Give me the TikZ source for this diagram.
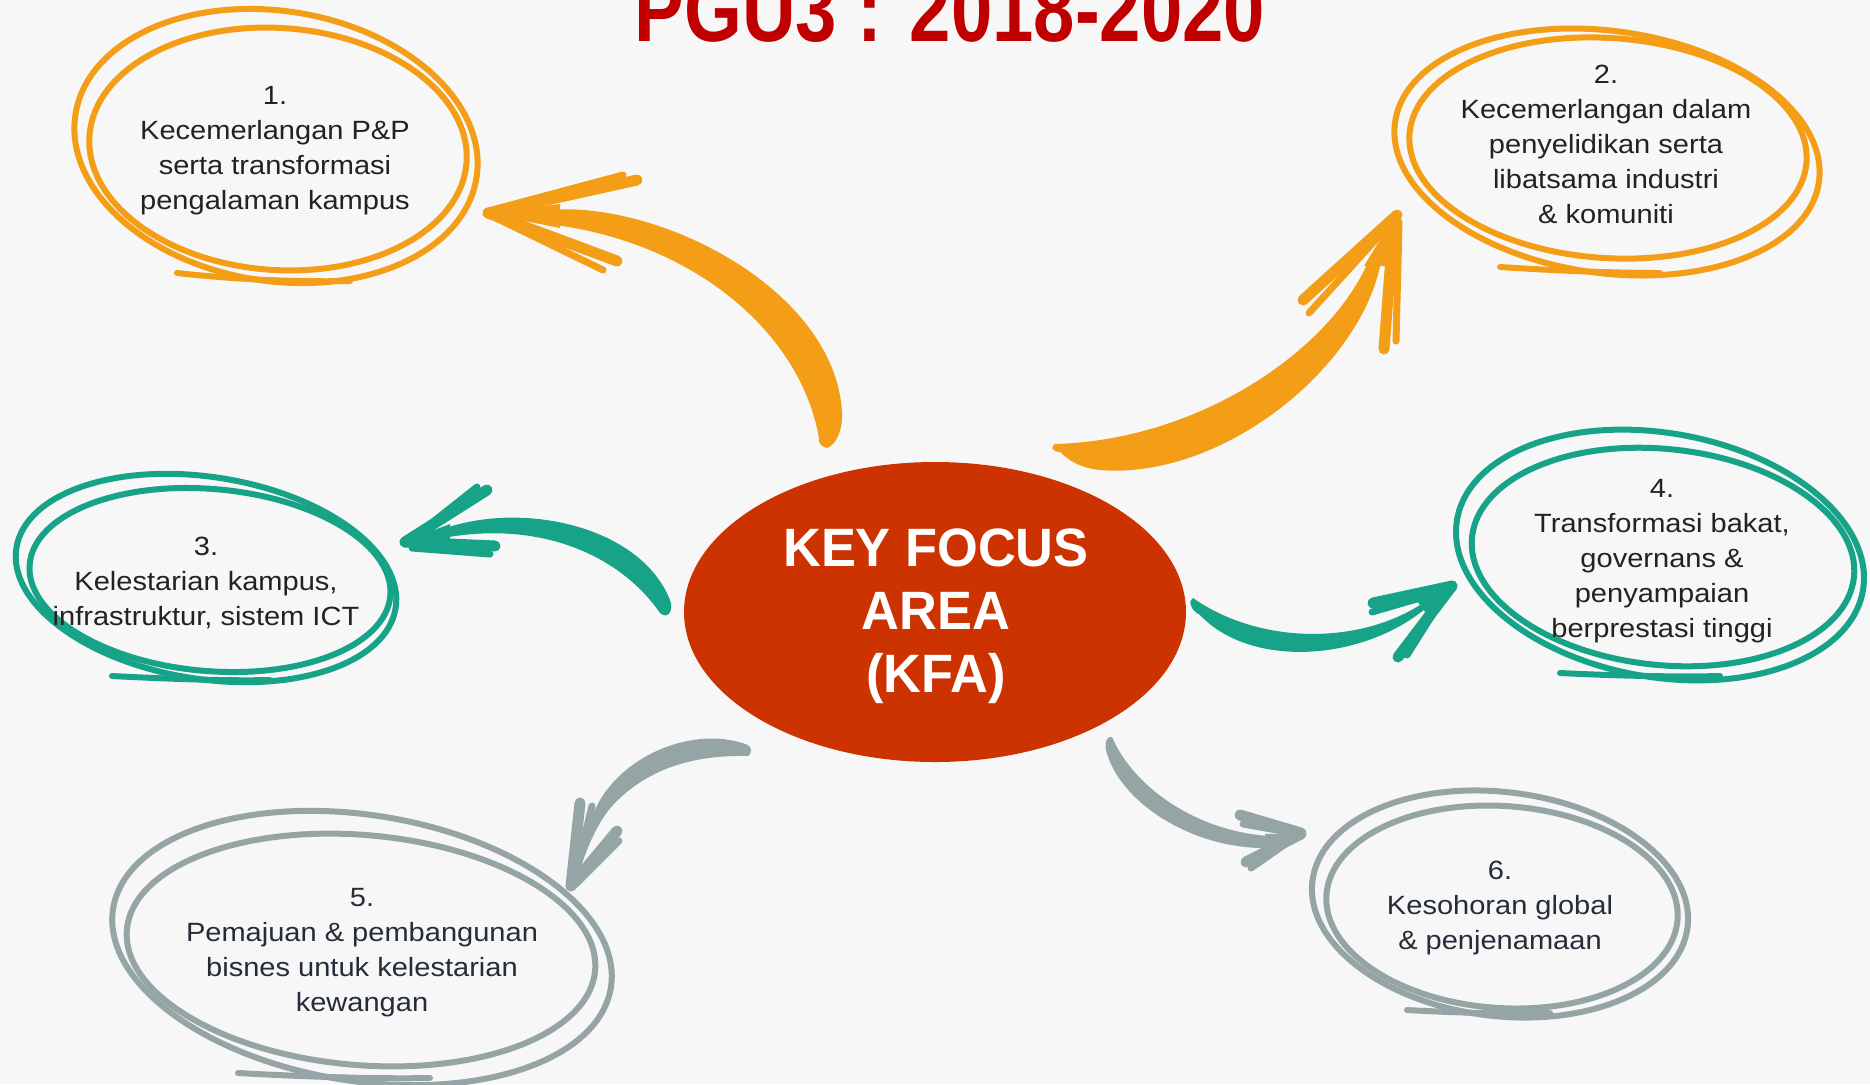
\documentclass[tikz,border=0pt]{standalone}
\usepackage{fontspec}
\setmainfont{Liberation Sans}
\newfontfamily\itemfont{Liberation Sans}[FakeStretch=1.1]
\newfontfamily\kfafont{Liberation Sans}[FakeStretch=0.97]
\newfontfamily\titlefont{Liberation Sans}[FakeStretch=0.82]
\definecolor{bgc}{HTML}{F7F7F7}
\definecolor{org}{HTML}{F39E16}
\definecolor{tealc}{HTML}{17A387}
\definecolor{grayc}{HTML}{95A5A5}
\definecolor{kfac}{HTML}{CC3300}
\definecolor{ttl}{HTML}{C00000}
\definecolor{txt}{HTML}{222222}
\definecolor{txtb}{HTML}{252D38}
\begin{document}
\begin{tikzpicture}[x=0.5pt,y=-0.5pt,
  loopline/.style={draw=#1, line width=3pt, line cap=round},
  barb/.style={draw=#1, line width=5.5pt, line cap=round},
  barbthin/.style={draw=#1, line width=3.5pt, line cap=round},
  itemtext/.style={anchor=base, inner sep=0pt, text=txt, font=\itemfont\fontsize{13.2}{17.5}\selectfont},
  kfatext/.style={anchor=base, inner sep=0pt, text=white, font=\kfafont\bfseries\fontsize{27}{31.5}\selectfont},
  titletext/.style={anchor=base, inner sep=0pt, text=ttl, font=\titlefont\bfseries\fontsize{45.3}{50}\selectfont}]
\useasboundingbox (0,0) rectangle (1870,1084);
\fill[bgc] (0,0) rectangle (1870,1084);
\clip (0,0) rectangle (1870,1084);

% title
\node[titletext] (title) at (950,41) {PGU3 : 2018-2020};

% central ellipse
\fill[kfac] (935,612) ellipse [x radius=251, y radius=150];
\node[kfatext] (kfa) at (936,566) {\begin{tabular}[t]{@{}c@{}}KEY FOCUS\\AREA\\(KFA)\end{tabular}};

% ---------- loops ----------
% item 1
\draw[loopline=org, shift={(276,146)}, rotate=-9] (0,0) ellipse [x radius=203, y radius=135];
\draw[loopline=org, shift={(278,149)}, rotate=-4] (0,0) ellipse [x radius=189, y radius=121];
\draw[loopline=org] (177,273) .. controls (240,280) and (300,282) .. (350,281);
% item 2
\draw[loopline=org, shift={(1607,152)}, rotate=-8] (0,0) ellipse [x radius=214, y radius=121];
\draw[loopline=org, shift={(1608,148)}, rotate=-4] (0,0) ellipse [x radius=199, y radius=110];
\draw[loopline=org] (1500,267) .. controls (1560,271) and (1620,273) .. (1660,273);
% item 3
\draw[loopline=tealc, shift={(206,578)}, rotate=-9] (0,0) ellipse [x radius=192, y radius=101];
\draw[loopline=tealc, shift={(210,580)}, rotate=-5] (0,0) ellipse [x radius=181, y radius=91];
\draw[loopline=tealc] (112,676) .. controls (170,679) and (230,681) .. (270,680);
% item 4
\draw[loopline=tealc, shift={(1660,555)}, rotate=-10] (0,0) ellipse [x radius=206, y radius=122];
\draw[loopline=tealc, shift={(1663,557)}, rotate=-6] (0,0) ellipse [x radius=192, y radius=108];
\draw[loopline=tealc] (1560,673) .. controls (1620,676) and (1680,677) .. (1720,676);
% item 5
\draw[loopline=grayc, shift={(362,948)}, rotate=-9] (0,0) ellipse [x radius=252, y radius=133];
\draw[loopline=grayc, shift={(361,950)}, rotate=-5] (0,0) ellipse [x radius=235, y radius=115];
\draw[loopline=grayc] (238,1073) .. controls (310,1077) and (380,1079) .. (430,1078);
% item 6
\draw[loopline=grayc, shift={(1500,904)}, rotate=-7] (0,0) ellipse [x radius=189, y radius=112];
\draw[loopline=grayc, shift={(1502,907)}, rotate=-4] (0,0) ellipse [x radius=176, y radius=101];
\draw[loopline=grayc] (1407,1010) .. controls (1460,1013) and (1510,1014) .. (1550,1013);

% ---------- texts ----------
\node[itemtext] (n1) at (275,104) {\begin{tabular}[t]{@{}c@{}}1.\\Kecemerlangan P\&P\\serta transformasi\\pengalaman kampus\end{tabular}};
\node[itemtext] (n2) at (1606,83) {\begin{tabular}[t]{@{}c@{}}2.\\Kecemerlangan dalam\\penyelidikan serta\\libatsama industri\\\& komuniti\end{tabular}};
\node[itemtext] (n3) at (206,555) {\begin{tabular}[t]{@{}c@{}}3.\\Kelestarian kampus,\\infrastruktur, sistem ICT\end{tabular}};
\node[itemtext] (n4) at (1662,497) {\begin{tabular}[t]{@{}c@{}}4.\\Transformasi bakat,\\governans \&\\penyampaian\\berprestasi tinggi\end{tabular}};
\node[itemtext, text=txtb] (n5) at (362,906) {\begin{tabular}[t]{@{}c@{}}5.\\Pemajuan \& pembangunan\\bisnes untuk kelestarian\\kewangan\end{tabular}};
\node[itemtext, text=txtb] (n6) at (1500,879) {\begin{tabular}[t]{@{}c@{}}6.\\Kesohoran global\\\& penjenamaan\end{tabular}};

% ---------- arrows ----------
% arrow 1 (orange, to item 1)
\fill[org] (547,210) .. controls (660,200) and (835,290) .. (842,412) .. controls (843,430) and (836,445) .. (827,448) .. controls (820,446) and (818,442) .. (819,438) .. controls (800,330) and (690,240) .. (547,224) -- cycle;
\fill[org] (485,213) -- (560,204) -- (560,228) -- cycle;
\draw[barb=org] (488,213) -- (637,180);
\draw[barbthin=org] (496,209) -- (623,175);
\draw[barb=org] (488,213) -- (617,261);
\draw[barbthin=org] (496,218) -- (603,270);

% arrow 2 (orange, to item 2)
\fill[org] (1055,444) .. controls (1200,440) and (1330,350) .. (1368,262) -- (1381,262) .. controls (1360,370) and (1220,480) .. (1100,470) .. controls (1080,468) and (1068,460) .. (1060,452) .. controls (1052,452) and (1050,446) .. (1055,444) -- cycle;
\fill[org] (1397,212) -- (1364,266) -- (1386,266) -- cycle;
\draw[barb=org] (1397,215) -- (1303,300);
\draw[barbthin=org] (1390,224) -- (1309,313);
\draw[barb=org] (1394,218) -- (1384,349);
\draw[barbthin=org] (1399,222) -- (1396,341);

% arrow 3 (teal, to item 3)
\fill[tealc] (440,530) .. controls (520,500) and (640,525) .. (670,600) .. controls (674,610) and (668,620) .. (660,613) .. controls (620,555) and (540,520) .. (443,538) -- cycle;
\fill[tealc] (403,542) -- (450,524) -- (450,545) -- cycle;
\draw[barb=tealc] (405,542) -- (487,490);
\draw[barbthin=tealc] (414,537) -- (477,487);
\draw[barb=tealc] (405,542) -- (495,546);
\draw[barbthin=tealc] (412,548) -- (490,554);

% arrow 4 (teal, to item 4)
\fill[tealc] (1193,598) .. controls (1260,645) and (1360,645) .. (1423,603) -- (1425,609) .. controls (1360,662) and (1250,668) .. (1200,615) .. controls (1190,610) and (1188,600) .. (1193,598) -- cycle;
\fill[tealc] (1455,584) -- (1415,598) -- (1425,612) -- cycle;
\draw[barb=tealc] (1452,586) -- (1373,603);
\draw[barbthin=tealc] (1444,591) -- (1372,612);
\draw[barb=tealc] (1452,586) -- (1398,657);
\draw[barbthin=tealc] (1446,593) -- (1407,655);

% arrow 5 (gray, to item 5)
\fill[grayc] (748,745) .. controls (700,726) and (630,750) .. (600,800) .. controls (588,822) and (578,850) .. (572,878) -- (578,878) .. controls (585,850) and (598,822) .. (612,806) .. controls (650,765) and (700,755) .. (748,756) .. controls (752,754) and (752,747) .. (748,745) -- cycle;
\draw[barb=grayc] (571,886) -- (580,803);
\draw[barbthin=grayc] (574,880) -- (592,806);
\draw[barb=grayc] (571,886) -- (617,831);
\draw[barbthin=grayc] (576,884) -- (619,841);

% arrow 6 (gray, to item 6)
\fill[grayc] (1112,737) .. controls (1135,790) and (1200,832) .. (1270,836) -- (1270,848) .. controls (1190,850) and (1118,800) .. (1106,750) .. controls (1104,742) and (1108,735) .. (1112,737) -- cycle;
\fill[grayc] (1304,833) -- (1265,834) -- (1268,850) -- cycle;
\draw[barb=grayc] (1301,833) -- (1240,815);
\draw[barbthin=grayc] (1294,833) -- (1243,824);
\draw[barb=grayc] (1301,834) -- (1246,862);
\draw[barbthin=grayc] (1294,838) -- (1251,868);
\end{tikzpicture}
\end{document}
